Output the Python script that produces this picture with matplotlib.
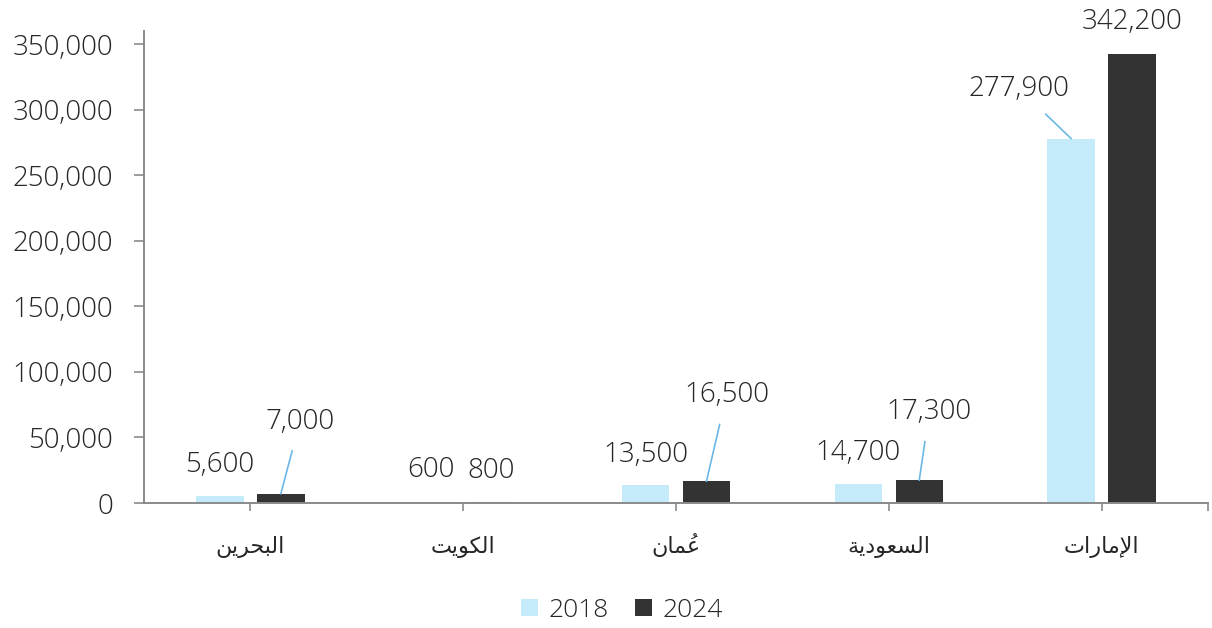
import matplotlib
matplotlib.use("Agg")
import matplotlib.pyplot as plt
from matplotlib.patches import Patch
from matplotlib.font_manager import FontProperties
import numpy as np

# ---------------- data ----------------
categories = ["البحرين", "الكويت", "عُمان", "السعودية", "الإمارات"]
years = ["2018", "2024"]
values_2018 = [5600, 600, 13500, 14700, 277900]
values_2024 = [7000, 800, 16500, 17300, 342200]
y_ticks = [0, 50000, 100000, 150000, 200000, 250000, 300000, 350000]

# ---------------- minimal Arabic shaping (matplotlib has no complex text layout) ----------------
FORMS = {  # iso, fin, ini, med   (right-joining letters have only iso, fin)
    "\u0627": ("\uFE8D", "\uFE8E"),
    "\u0625": ("\uFE87", "\uFE88"),
    "\u062F": ("\uFEA9", "\uFEAA"),
    "\u0631": ("\uFEAD", "\uFEAE"),
    "\u0648": ("\uFEED", "\uFEEE"),
    "\u0629": ("\uFE93", "\uFE94"),
    "\u0628": ("\uFE8F", "\uFE90", "\uFE91", "\uFE92"),
    "\u062A": ("\uFE95", "\uFE96", "\uFE97", "\uFE98"),
    "\u062D": ("\uFEA1", "\uFEA2", "\uFEA3", "\uFEA4"),
    "\u0633": ("\uFEB1", "\uFEB2", "\uFEB3", "\uFEB4"),
    "\u0639": ("\uFEC9", "\uFECA", "\uFECB", "\uFECC"),
    "\u0643": ("\uFED9", "\uFEDA", "\uFEDB", "\uFEDC"),
    "\u0644": ("\uFEDD", "\uFEDE", "\uFEDF", "\uFEE0"),
    "\u0645": ("\uFEE1", "\uFEE2", "\uFEE3", "\uFEE4"),
    "\u0646": ("\uFEE5", "\uFEE6", "\uFEE7", "\uFEE8"),
    "\u064A": ("\uFEF1", "\uFEF2", "\uFEF3", "\uFEF4"),
}
LAM_ALEF = {"\u0627": ("\uFEFB", "\uFEFC"), "\u0625": ("\uFEF9", "\uFEFA")}
# combining harakat -> spacing (isolated) presentation forms
MARKS = {"\u064F": "\uFE78", "\u064E": "\uFE76", "\u0650": "\uFE7A", "\u0651": "\uFE7C",
         "\u0652": "\uFE7E"}


def shape_arabic(text):
    """Return visual-order glyph list [(glyph, [marks])] (left to right)."""
    clusters = []
    for ch in text:
        if ch in MARKS and clusters:
            clusters[-1][1].append(ch)
        else:
            clusters.append([ch, []])
    merged = []
    i = 0
    while i < len(clusters):
        b, m = clusters[i]
        if b == "\u0644" and i + 1 < len(clusters) and clusters[i + 1][0] in LAM_ALEF:
            merged.append(["LA" + clusters[i + 1][0], m + clusters[i + 1][1]])
            i += 2
        else:
            merged.append([b, m])
            i += 1

    def dual(b):
        return b in FORMS and len(FORMS[b]) == 4

    def letter(b):
        return b in FORMS or b.startswith("LA")

    out = []
    for i, (b, m) in enumerate(merged):
        prev_joins = i > 0 and dual(merged[i - 1][0])
        next_is_letter = i + 1 < len(merged) and letter(merged[i + 1][0])
        if b.startswith("LA"):
            f = LAM_ALEF[b[2:]]
            g = f[1] if prev_joins else f[0]
        elif b in FORMS:
            f = FORMS[b]
            if len(f) == 4:
                if prev_joins and next_is_letter:
                    g = f[3]
                elif prev_joins:
                    g = f[1]
                elif next_is_letter:
                    g = f[2]
                else:
                    g = f[0]
            else:
                g = f[1] if prev_joins else f[0]
        else:
            g = b
        out.append((g, m))
    return list(reversed(out))


# ---------------- style ----------------
plt.rcParams["font.family"] = ["Open Sans", "Roboto", "DejaVu Sans"]
TEXT_COLOR = "#262626"
AXIS_COLOR = "#8a8a8a"
C2018 = "#C5EBFB"
C2024 = "#333333"
LEADER = "#6BB8E6"
NUM_SIZE = 20
NUM_WEIGHT = "light"
CAT_SIZE = 16

fig = plt.figure(figsize=(12.12, 6.28), dpi=100)
ax = fig.add_axes([144 / 1212, 125 / 628, 1064 / 1212, 472 / 628])

x = np.arange(len(categories))
width = 0.223
off = 0.143
b1 = ax.bar(x - off, values_2018, width, color=C2018, label=years[0], zorder=2)
b2 = ax.bar(x + off, values_2024, width, color=C2024, label=years[1], zorder=2)

ax.set_xlim(-0.5, len(categories) - 0.5)
ax.set_ylim(0, 360000)
ax.set_yticks(y_ticks)
ax.set_yticklabels([f"{v:,}" for v in y_ticks])

shaped = [shape_arabic(c) for c in categories]
ax.set_xticks(x)
ax.set_xticklabels(["".join(g for g, _ in s) for s in shaped], family="DejaVu Sans",
                   fontsize=CAT_SIZE, color=TEXT_COLOR)
ax.set_xticks([len(categories) - 0.5], minor=True)

for s in ["top", "right"]:
    ax.spines[s].set_visible(False)
for s in ["left", "bottom"]:
    ax.spines[s].set_color(AXIS_COLOR)
    ax.spines[s].set_linewidth(1.4)

ax.tick_params(axis="y", length=7.2, width=1.2, color=AXIS_COLOR, pad=15,
               labelsize=NUM_SIZE, labelcolor=TEXT_COLOR)
for lab in ax.get_yticklabels():
    lab.set_fontweight(NUM_WEIGHT)
ax.tick_params(axis="x", which="both", length=5.8, width=1.2, color=AXIS_COLOR, pad=18)

# data labels: pixel offsets (dx, dy) of the label centre from each bar top
offsets_2018 = [(0, 31), (-2, 32), (0, 30), (0, 31), (-52, 50)]
offsets_2024 = [(19, 72), (-3, 31), (20, 86), (10, 68), (0, 32)]
leader_2018 = [False, False, False, False, True]
leader_2024 = [True, False, True, True, False]

for bars, vals, offs, leads in [(b1, values_2018, offsets_2018, leader_2018),
                                (b2, values_2024, offsets_2024, leader_2024)]:
    for bar, v, (dx, dy), lead in zip(bars, vals, offs, leads):
        cx = bar.get_x() + bar.get_width() / 2
        kw = dict(xy=(cx, v), xytext=(dx, dy), textcoords="offset pixels",
                  ha="center", va="center", fontsize=NUM_SIZE, fontweight=NUM_WEIGHT,
                  color=TEXT_COLOR, zorder=3)
        if lead:
            kw["arrowprops"] = dict(arrowstyle="-", color=LEADER, lw=1.2,
                                    shrinkA=9, shrinkB=0)
        ax.annotate(f"{v:,}", **kw)

handles = [Patch(facecolor=C2018, edgecolor="none"), Patch(facecolor=C2024, edgecolor="none")]
leg = fig.legend(handles, years, loc="center", bbox_to_anchor=(0.513, 0.028), ncol=2,
                 frameon=False, fontsize=NUM_SIZE - 1, handlelength=0.65, handleheight=0.65,
                 handletextpad=0.4, columnspacing=1.0, labelcolor=TEXT_COLOR)
for t in leg.get_texts():
    t.set_fontweight(NUM_WEIGHT)

# place Arabic diacritics (harakat) over their base glyphs
fig.canvas.draw()
renderer = fig.canvas.get_renderer()
fp = FontProperties(family="DejaVu Sans", size=CAT_SIZE)
for lab, s in zip(ax.get_xticklabels(), shaped):
    bb = lab.get_window_extent(renderer)
    for k, (g, marks) in enumerate(s):
        if not marks:
            continue
        prefix = "".join(gg for gg, _ in s[: k + 1])
        w_pre, _, _ = renderer.get_text_width_height_descent(prefix, fp, ismath=False)
        w_g, _, _ = renderer.get_text_width_height_descent(g, fp, ismath=False)
        mx = bb.x0 + w_pre - w_g / 2
        for mk in marks:
            fig.text(mx / fig.bbox.width, bb.y1 / fig.bbox.height, MARKS[mk], ha="center",
                     va="top", family="DejaVu Sans", fontsize=CAT_SIZE, color=TEXT_COLOR)

fig.savefig("out.png", dpi=100)
